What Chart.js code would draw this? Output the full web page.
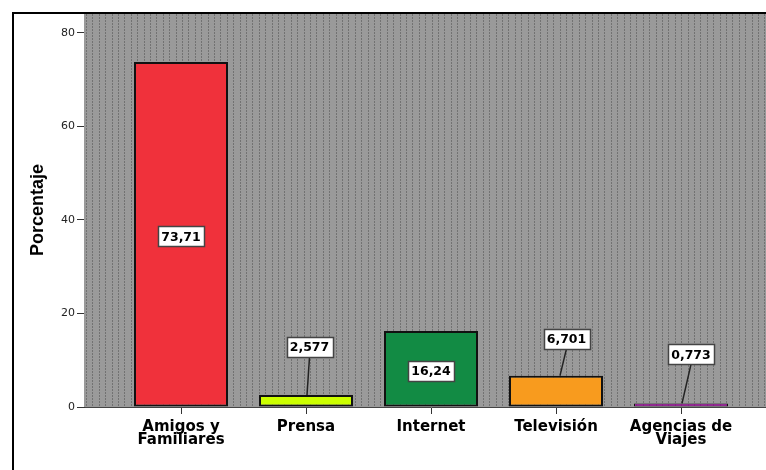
<!DOCTYPE html>
<html lang="es">
<head>
<meta charset="UTF-8">
<title>Porcentaje por fuente</title>
<script src="https://cdn.jsdelivr.net/npm/chart.js"></script>
<style>
  html, body { margin: 0; padding: 0; background: #fff; overflow: hidden; width: 766px; height: 470px; }
  #wrap { position: absolute; left: 0; top: 0; width: 780px; height: 470px; }
  #marco { position: absolute; left: 12px; top: 12px; width: 800px; height: 500px;
           border-left: 2px solid #000; border-top: 2px solid #000; pointer-events: none; }
</style>
</head>
<body>
<div id="wrap"><canvas id="chart" width="780" height="470"></canvas></div>
<div id="marco"></div>
<script>
// fuentes de información y porcentaje de cada una
const categorias = [['Amigos y', 'Familiares'], ['Prensa'], ['Internet'], ['Televisión'], ['Agencias de', 'Viajes']];
const porcentajes = [73.71, 2.577, 16.24, 6.701, 0.773];
const colores = ['#f0313b', '#ccff00', '#128b44', '#f89b1e', '#cc00cc'];
const yTicks = [0, 20, 40, 60, 80];

// posición de cada etiqueta: dentro de la barra o desplazada con línea guía
const rotulos = [
  { dentro: true },
  { dx: 3.5, dy: -48, ax: 1 },
  { dentro: true },
  { dx: 10.5, dy: -37, ax: 4 },
  { dx: 10, dy: -49, ax: 1 }
];

const fondoPunteado = {
  id: 'fondoPunteado',
  beforeDatasetsDraw(chart) {
    const { ctx, chartArea: a } = chart;
    ctx.save();
    ctx.fillStyle = '#9a9a9a';
    ctx.fillRect(a.left, a.top, a.right - a.left, a.bottom - a.top);
    ctx.fillStyle = '#727272';
    for (let x = a.left + 2; x < a.right; x += 6.4) {
      const px = Math.round(x);
      for (let y = a.top + 1; y < a.bottom; y += 3) {
        ctx.fillRect(px, y, 1, 2);
      }
    }
    ctx.restore();
  }
};

const etiquetasValor = {
  id: 'etiquetasValor',
  afterDatasetsDraw(chart) {
    const { ctx } = chart;
    const meta = chart.getDatasetMeta(0);
    ctx.save();
    ctx.font = 'bold 12.5px "DejaVu Sans"';
    ctx.textAlign = 'center';
    ctx.textBaseline = 'middle';
    meta.data.forEach((bar, i) => {
      const texto = String(porcentajes[i]).replace('.', ',');
      const r = rotulos[i];
      const w = Math.round(ctx.measureText(texto).width) + 6;
      const h = 20;
      let cx, cy;
      if (r.dentro) {
        cx = bar.x;
        cy = (bar.y + bar.base) / 2 + 2;
      } else {
        cx = bar.x + r.dx;
        cy = bar.y + r.dy;
        ctx.strokeStyle = '#222';
        ctx.lineWidth = 1.5;
        ctx.beginPath();
        ctx.moveTo(bar.x + r.ax, bar.y);
        ctx.lineTo(cx, cy + h / 2);
        ctx.stroke();
      }
      const x0 = Math.round(cx - w / 2) + 0.5;
      const y0 = Math.round(cy - h / 2) + 0.5;
      ctx.fillStyle = '#fff';
      ctx.fillRect(x0, y0, w, h);
      ctx.strokeStyle = '#444';
      ctx.lineWidth = 1.5;
      ctx.strokeRect(x0, y0, w, h);
      ctx.fillStyle = '#000';
      ctx.fillText(texto, cx, cy + 1);
    });
    ctx.restore();
  }
};

new Chart(document.getElementById('chart'), {
  type: 'bar',
  data: {
    datasets: [{
      data: porcentajes.map((v, i) => ({ x: i + 1, y: v })),
      backgroundColor: colores,
      borderColor: '#111',
      borderWidth: [2, 2, 2, 2, 1],
      borderSkipped: false,
      categoryPercentage: 1,
      barPercentage: 0.752
    }]
  },
  options: {
    responsive: false,
    animation: false,
    devicePixelRatio: 1,
    layout: { padding: { left: 0, top: 13, right: 2, bottom: 0 } },
    plugins: { legend: { display: false }, tooltip: { enabled: false } },
    scales: {
      x: {
        type: 'linear',
        offset: false,
        min: 0.224,
        max: 5.776,
        afterBuildTicks: s => { s.ticks = categorias.map((c, i) => ({ value: i + 1 })); },
        afterFit: s => { s.height = 63; },
        grid: { offset: false, drawOnChartArea: false, drawTicks: true, tickLength: 7, color: '#333' },
        border: { display: true, color: '#444', width: 1 },
        ticks: {
          autoSkip: false,
          maxRotation: 0,
          padding: 7,
          color: '#000',
          font: { family: '"DejaVu Sans"', size: 15, weight: 'bold', lineHeight: 0.84 },
          callback: v => categorias[v - 1]
        }
      },
      y: {
        min: 0,
        max: 84.2,
        afterBuildTicks: s => { s.ticks = yTicks.map(v => ({ value: v })); },
        afterFit: s => { s.width = 84; },
        grid: { drawOnChartArea: false, drawTicks: true, tickLength: 7, color: '#333' },
        border: { display: true, color: '#333', width: 1 },
        ticks: {
          padding: 2,
          color: '#222',
          font: { family: '"DejaVu Sans"', size: 11 }
        },
        title: {
          display: true,
          text: 'Porcentaje',
          color: '#000',
          padding: { top: 27, bottom: 0 },
          font: { family: '"Liberation Sans"', size: 18, weight: 'bold' }
        }
      }
    }
  },
  plugins: [fondoPunteado, etiquetasValor]
});
</script>
</body>
</html>
